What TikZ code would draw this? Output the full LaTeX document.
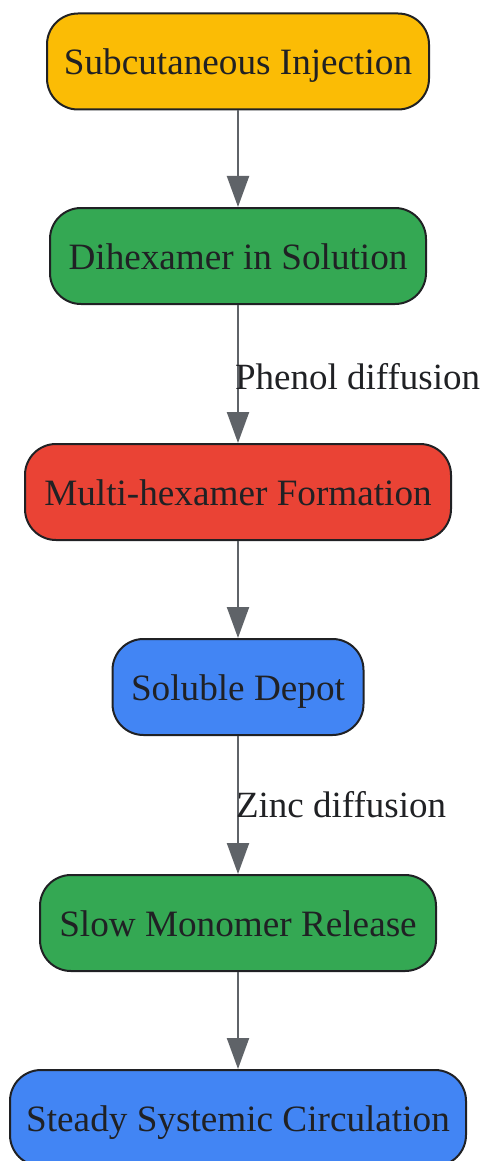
\documentclass[tikz,border=0pt]{standalone}
\usepackage{fontspec}
\setmainfont{Liberation Serif}
\usetikzlibrary{arrows.meta}
\definecolor{cyellow}{HTML}{FBBC05}
\definecolor{cgreen}{HTML}{34A853}
\definecolor{cred}{HTML}{EA4335}
\definecolor{cblue}{HTML}{4285F4}
\definecolor{cedge}{HTML}{5F6368}
\definecolor{cborder}{HTML}{202124}
\definecolor{ctext}{HTML}{202124}
\begin{document}
\begin{tikzpicture}[x=1pt,y=-1pt,
  box/.style={draw=cborder, line width=2pt, rounded corners=31pt, minimum height=96pt,
    inner sep=0pt, text=ctext, text height=35pt, text depth=8pt, font=\fontsize{37.2}{44}\selectfont},
  conn/.style={draw=cedge, line width=2.2pt, -{Triangle[length=31pt,width=22pt]}},
  elabel/.style={text=ctext, font=\fontsize{37}{44}\selectfont, inner sep=0pt, anchor=west}]
\useasboundingbox (0,0) rectangle (485,1161);
\node[box, fill=cyellow, minimum width=382pt] (n1) at (238,61.5) {Subcutaneous Injection};
\node[box, fill=cgreen, minimum width=376pt] (n2) at (238,256) {Dihexamer in Solution};
\node[box, fill=cred, minimum width=426pt] (n3) at (238,492) {Multi-hexamer Formation};
\node[box, fill=cblue, minimum width=251pt] (n4) at (238,687) {Soluble Depot};
\node[box, fill=cgreen, minimum width=396pt] (n5) at (238,923) {Slow Monomer Release};
\node[box, fill=cblue, minimum width=456pt] (n6) at (238,1118) {Steady Systemic Circulation};
\draw[conn] (n1) -- (n2);
\draw[conn] (n2) -- node[elabel, pos=0.52, xshift=-4pt] (l1) {Phenol diffusion} (n3);
\draw[conn] (n3) -- (n4);
\draw[conn] (n4) -- node[elabel, pos=0.5, xshift=-3pt] (l2) {Zinc diffusion} (n5);
\draw[conn] (n5) -- (n6);
\end{tikzpicture}
\end{document}
